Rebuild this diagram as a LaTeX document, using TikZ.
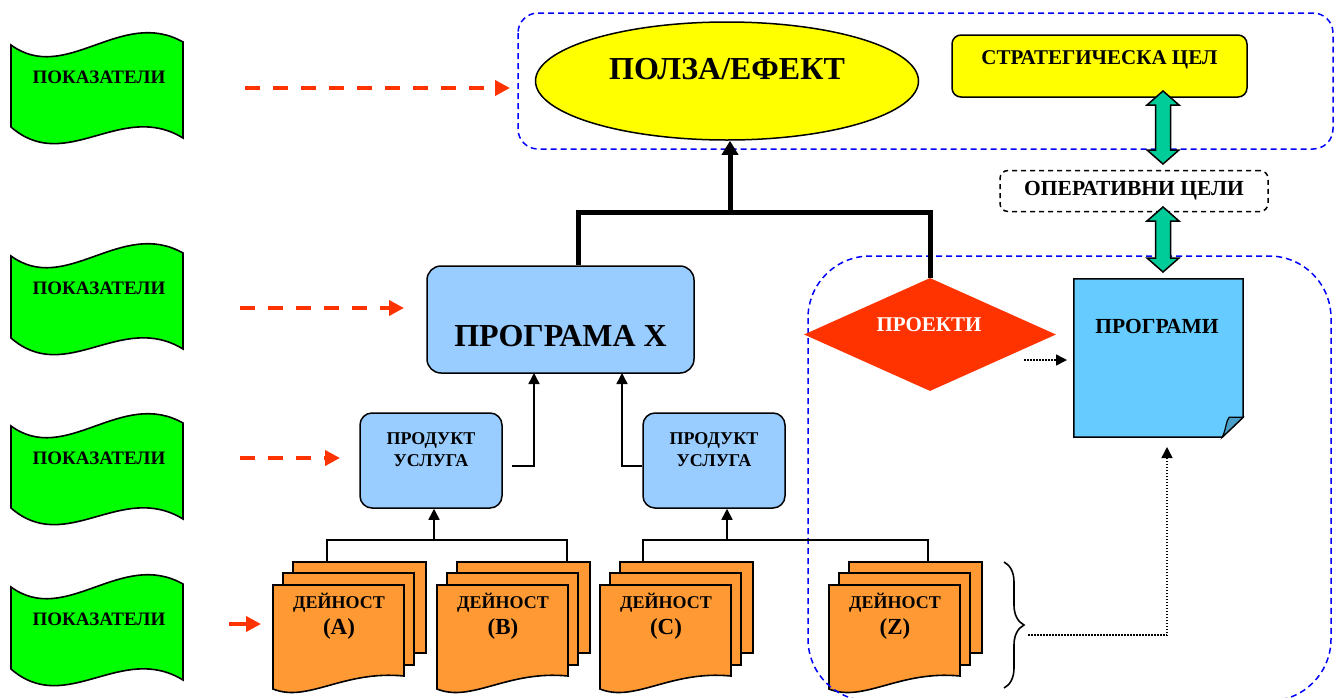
\documentclass[tikz,border=0pt]{standalone}
\usepackage{fontspec}
\setmainfont{Liberation Serif}
\usetikzlibrary{arrows.meta,shapes.geometric,decorations.pathreplacing,calc}

\definecolor{flaggreen}{HTML}{00FF00}
\definecolor{arrowred}{HTML}{FF3300}
\definecolor{lightblue}{HTML}{99CCFF}
\definecolor{skyblue}{HTML}{66CCFF}
\definecolor{foldblue}{HTML}{4A9FC8}
\definecolor{actorange}{HTML}{FF9933}
\definecolor{tealgreen}{HTML}{00CC99}
\definecolor{dashblue}{HTML}{0000FF}
\definecolor{goalyellow}{HTML}{FFFF00}

% bold text at a given size and line spacing
\newcommand{\fsz}[2]{\fontsize{#1}{#2}\selectfont\bfseries}

% wavy green flag with the "ПОКАЗАТЕЛИ" label; #1 = top y, #2 = label name
\newcommand{\pokflag}[2]{%
  \draw[flagshape, shift={(11,#1)}]
    (0,0) .. controls (55,40) and (110,-38) .. (172,-3)
    -- (172,93) .. controls (110,55) and (55,130) .. (0,82) -- cycle;
  \node[flagtext] (#2) at (99,#1+32) {ПОКАЗАТЕЛИ};}

% stack of three activity sheets; #1 = left x of front sheet, #2 = name, #3 = letter
\newcommand{\actstack}[3]{%
  \draw[page] (#1+20,562) rectangle (#1+153,653);
  \draw[page] (#1+10,573) rectangle (#1+141,665);
  \draw[page] (#1,585) -- (#1+131,585) -- (#1+131,676)
    .. controls (#1+70,670) and (#1+35,703) .. (#1,689) -- cycle;
  \node[acttext] (#2) at (#1+66,616) {ДЕЙНОСТ\\{\fontsize{23}{26}\selectfont(#3)}};}

% vertical block arrow with heads at both ends; #1 = x, #2 = top y, #3 = bottom y
\newcommand{\blockdbl}[3]{%
  \draw[tealarrow] (#1,#2) -- (#1+16,#2+14) -- (#1+7.5,#2+14) -- (#1+7.5,#3-14)
    -- (#1+16,#3-14) -- (#1,#3) -- (#1-16,#3-14) -- (#1-7.5,#3-14)
    -- (#1-7.5,#2+14) -- (#1-16,#2+14) -- cycle;}

\begin{document}
\begin{tikzpicture}[x=1pt,y=-1pt,line join=miter,
  flagshape/.style={draw=black,line width=1.6pt,fill=flaggreen},
  flagtext/.style={font=\fsz{19}{21},inner sep=0pt},
  page/.style={draw=black,line width=1.6pt,fill=actorange},
  acttext/.style={font=\fsz{18}{26},align=center,inner sep=0pt},
  box/.style={draw=black,line width=1.5pt,inner sep=0pt},
  label/.style={inner sep=0pt,align=center},
  frame/.style={draw=dashblue,line width=1.5pt,dash pattern=on 6pt off 4pt},
  redarrow/.style={draw=arrowred,line width=4pt,dash pattern=on 15pt off 13pt,
    -{Triangle[length=15pt,width=15pt]}},
  redsolid/.style={draw=arrowred,line width=4pt,-{Triangle[length=15pt,width=15pt]}},
  link/.style={draw=black,line width=1.6pt,-{Triangle[length=11pt,width=11pt]}},
  plain/.style={draw=black,line width=1.6pt},
  heavy/.style={draw=black,line width=5pt},
  dots/.style={draw=black,line width=1.5pt,dash pattern=on 1.5pt off 1.5pt,
    -{Triangle[length=11pt,width=11pt]}},
  tealarrow/.style={draw=black,line width=1.5pt,fill=tealgreen}]
\useasboundingbox (0,0) rectangle (1339,697);

% indicator flags
\pokflag{45}{ind1}
\pokflag{256}{ind2}
\pokflag{426}{ind3}
\pokflag{587}{ind4}

% activity stacks
\actstack{273}{actA}{A}
\actstack{437}{actB}{B}
\actstack{600}{actC}{C}
\actstack{829}{actZ}{Z}

% dashed grouping frames
\draw[frame,rounded corners=20pt] (518,13) rectangle (1333,149);
\draw[frame,rounded corners=62pt] (808,256) rectangle (1331,701);

% top level: benefit ellipse and strategic goal
\node[ellipse,box,fill=goalyellow,minimum width=383pt,minimum height=118pt] (effect) at (727,81) {};
\node[label,font=\fsz{32}{34}] (effectlbl) at (727,69) {ПОЛЗА/ЕФЕКТ};
\node[box,rounded corners=9pt,fill=goalyellow,minimum width=295pt,minimum height=62pt] (strat) at (1099.5,66) {};
\node[label,font=\fsz{21}{23}] (stratlbl) at (1099.5,60) {СТРАТЕГИЧЕСКА ЦЕЛ};
\node[draw=black,line width=1.5pt,dash pattern=on 5pt off 4pt,rounded corners=8pt,
  minimum width=268pt,minimum height=41pt,inner sep=0pt,font=\fsz{21.5}{23}] (oper) at (1134,191) {ОПЕРАТИВНИ ЦЕЛИ};

% programme level
\node[box,rounded corners=14pt,fill=lightblue,minimum width=267pt,minimum height=107pt] (progx) at (560.5,319.5) {};
\node[label,font=\fsz{32}{34}] (progxlbl) at (560.5,336) {ПРОГРАМА Х};
\node[diamond,fill=arrowred,minimum width=252pt,minimum height=113pt,inner sep=0pt] (proj) at (930,334.5) {};
\node[label,font=\fsz{21}{23},text=white] (projlbl) at (929,325) {ПРОЕКТИ};

% programmes sheet with folded corner
\node[inner sep=0pt,minimum width=169pt,minimum height=158pt] (progs) at (1158.5,358) {};
\draw[box,fill=skyblue] (progs.north west) -- (progs.north east) -- ($(progs.south east)+(0,-20)$)
  -- ($(progs.south east)+(-21,0)$) -- (progs.south west) -- cycle;
\draw[box,fill=foldblue,line width=1.2pt] ($(progs.south east)+(0,-20)$) -- ($(progs.south east)+(-21,0)$)
  .. controls ($(progs.south east)+(-17,-8)$) and ($(progs.south east)+(-17,-17)$) .. ($(progs.south east)+(-14,-20)$) -- cycle;
\node[label,font=\fsz{21.5}{23}] (progslbl) at (1157,326) {ПРОГРАМИ};

% products / services
\node[box,rounded corners=12pt,fill=lightblue,minimum width=142pt,minimum height=95pt] (prod1) at (431,460.5) {};
\node[label,font=\fsz{18}{22}] (prod1lbl) at (431,450) {ПРОДУКТ\\УСЛУГА};
\node[box,rounded corners=12pt,fill=lightblue,minimum width=142pt,minimum height=95pt] (prod2) at (714,460.5) {};
\node[label,font=\fsz{18}{22}] (prod2lbl) at (714,450) {ПРОДУКТ\\УСЛУГА};

% two-way links between goals
\blockdbl{1163}{91}{164}
\blockdbl{1163}{207}{272}

% heavy links up to the benefit
\coordinate (hub0) at (730,212);
\draw[heavy] ($(progx.north)+(17.5,0)$) |- (hub0) -| (proj.north);
\draw[heavy,-{Triangle[length=14pt,width=16pt]}] (hub0) -- (hub0 |- effect.south);

% products into the programme
\coordinate (p1out) at (512,466);
\coordinate (p1in) at (534,373);
\coordinate (p2in) at (622,373);
\draw[link] (p1out) -| (p1in);
\draw[link] (prod2.west |- p1out) -| (p2in);

% activities into products
\coordinate (hub1) at (434,540);
\coordinate (hub2) at (727,540);
\coordinate (jA) at (327,562);
\coordinate (jB) at (567,562);
\coordinate (jC) at (643,562);
\coordinate (jZ) at (928,562);
\draw[plain] (jA) |- (hub1) -| (jB);
\draw[plain] (jC) |- (hub2) -| (jZ);
\draw[link] (hub1) -- (hub1 |- prod1.south);
\draw[link] (hub2) -- (hub2 |- prod2.south);

% projects and activities feeding the programmes
\coordinate (projout) at (1024,360);
\coordinate (projin) at (1067,360);
\draw[dots] (projout) -- (projin);
\draw[decorate,decoration={brace,amplitude=20pt},line width=1.6pt] (1004,562) -- (1004,688);
\coordinate (braceout) at (1028,635);
\coordinate (progsin) at (1167,447);
\draw[dots] (braceout) -| (progsin);

% indicators
\coordinate (r1s) at (245,88);  \coordinate (r1e) at (510,88);
\coordinate (r2s) at (240,308); \coordinate (r2e) at (404,308);
\coordinate (r3s) at (240,458); \coordinate (r3e) at (340,458);
\coordinate (r4s) at (229,624); \coordinate (r4e) at (261,624);
\draw[redarrow] (r1s) -- (r1e);
\draw[redarrow] (r2s) -- (r2e);
\draw[redarrow] (r3s) -- (r3e);
\draw[redsolid] (r4s) -- (r4e);
\end{tikzpicture}
\end{document}
